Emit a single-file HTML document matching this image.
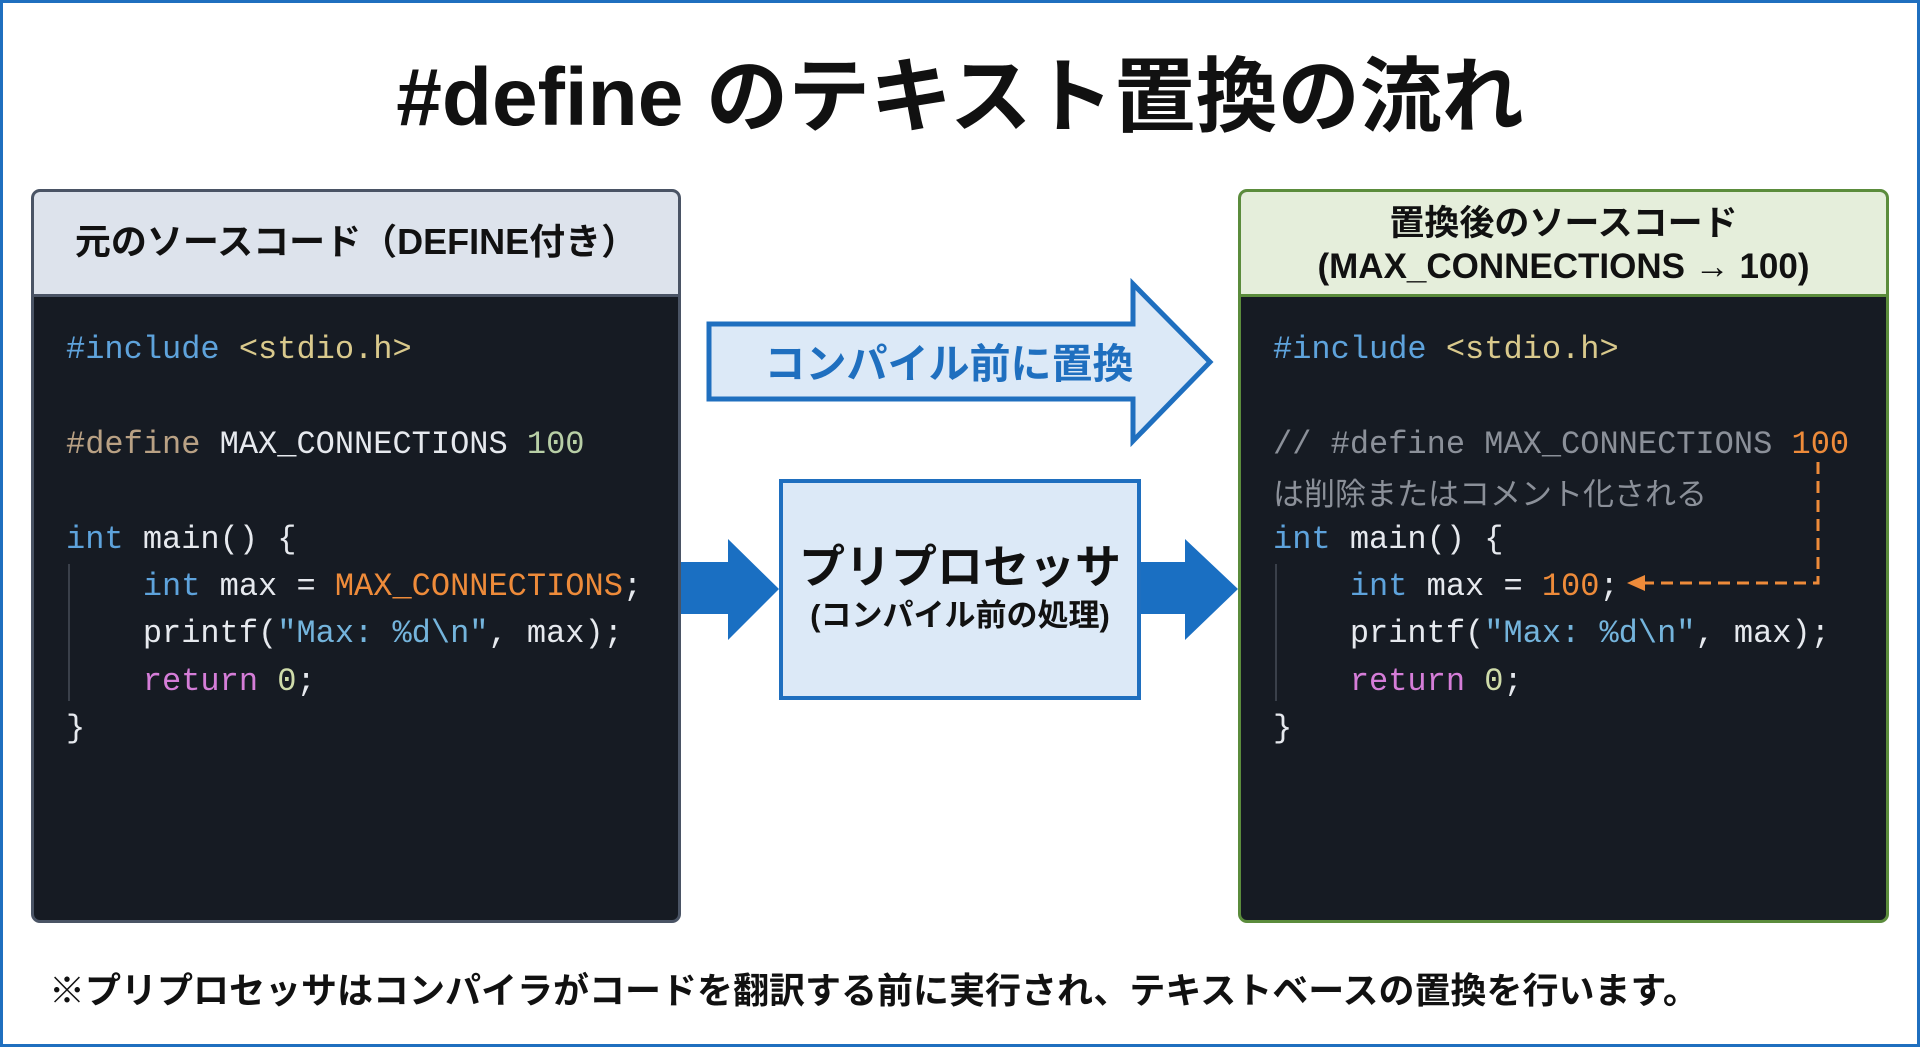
<!DOCTYPE html>
<html><head><meta charset="utf-8">
<style>
*{margin:0;padding:0;box-sizing:border-box}
body{width:1920px;height:1047px;background:#fff;position:relative;overflow:hidden;font-family:"Liberation Sans","Noto Sans CJK JP",sans-serif}
.frame{position:absolute;left:0;top:0;width:1920px;height:1047px;border:3px solid #1f6fbf}
.title{position:absolute;left:0;width:1920px;top:48px;text-align:center;font-size:82px;font-weight:bold;color:#111;line-height:100px}
.panel{position:absolute;top:189px;height:734px;border-radius:9px;overflow:hidden;background:#161b23}
.hdr{position:absolute;left:0;top:0;right:0;height:105px;text-align:center;font-weight:bold;color:#111}
.code{position:absolute;font-family:"Liberation Mono","DejaVu Sans Mono","Noto Sans CJK JP",monospace;font-size:32px;line-height:47.4px;color:#e6e9ee;white-space:pre}
.b{color:#5ea3dc}.y{color:#d9c98c}.d{color:#b9a184}.g{color:#b8cfa6}.o{color:#ee8b3a}.s{color:#74b4dc}.p{color:#d57dd8}.z{color:#cfdcaa}.c{color:#8b9099}
.guide{position:absolute;width:2px;background:#3a404a}
.jp{display:inline-block;height:47.4px;line-height:47.4px;vertical-align:top;font-family:"Noto Sans CJK JP",sans-serif;font-size:31px;overflow:hidden}
</style></head><body>
<div class="frame"></div>
<div class="title">#define のテキスト置換の流れ</div>

<!-- Left panel -->
<div class="panel" style="left:31px;width:650px;border:3px solid #4a5465">
 <div class="hdr" style="background:#dde3ec;border-bottom:3px solid #4a5465;font-size:36px;line-height:100px">元のソースコード（DEFINE付き）</div>
 <div class="guide" style="left:34px;top:372px;height:137px"></div>
 <div class="code" style="left:32px;top:134px"><span class="b">#include</span> <span class="y">&lt;stdio.h&gt;</span>

<span class="d">#define</span> MAX_CONNECTIONS <span class="g">100</span>

<span class="b">int</span> main() {
    <span class="b">int</span> max = <span class="o">MAX_CONNECTIONS</span>;
    printf(<span class="s">"Max: %d\n"</span>, max);
    <span class="p">return</span> <span class="z">0</span>;
}</div>
</div>

<!-- Right panel -->
<div class="panel" style="left:1238px;width:651px;border:3px solid #5b8c3c">
 <div class="hdr" style="background:#e5eedb;border-bottom:3px solid #5b8c3c;font-size:35px;line-height:43px;padding-top:10px">置換後のソースコード<br>(MAX_CONNECTIONS → 100)</div>
 <div class="guide" style="left:34px;top:372px;height:137px"></div>
 <div class="code" style="left:32px;top:134px"><span class="b">#include</span> <span class="y">&lt;stdio.h&gt;</span>

<span class="c">// #define MAX_CONNECTIONS </span><span class="o">100</span>
<span class="c jp">は削除またはコメント化される</span>
<span class="b">int</span> main() {
    <span class="b">int</span> max = <span class="o">100</span>;
    printf(<span class="s">"Max: %d\n"</span>, max);
    <span class="p">return</span> <span class="z">0</span>;
}</div>
</div>

<svg style="position:absolute;left:0;top:0" width="1920" height="1047">
 <path d="M1818 462 L1818 583 L1640 583" fill="none" stroke="#ee8b3a" stroke-width="3" stroke-dasharray="12 7"/>
 <path d="M1627 583 L1645 575 L1645 591 Z" fill="#ee8b3a"/>
 <path d="M709 324 L1133 324 L1133 284 L1210 362 L1133 441 L1133 399 L709 399 Z" fill="#dce9f7" stroke="#1f6fbf" stroke-width="5" stroke-linejoin="miter"/>
 <text x="949" y="378" text-anchor="middle" font-family="Liberation Sans,Noto Sans CJK JP,sans-serif" font-size="41" font-weight="bold" fill="#1f6fbf">コンパイル前に置換</text>
 <path d="M681 562 L728 562 L728 539 L779 589 L728 640 L728 614 L681 614 Z" fill="#1a6fc2"/>
 <path d="M1141 562 L1185 562 L1185 539 L1238 589 L1185 640 L1185 614 L1141 614 Z" fill="#1a6fc2"/>
</svg>

<div style="position:absolute;left:779px;top:479px;width:362px;height:221px;background:#dce9f7;border:4px solid #1f6fbf;text-align:center">
 <div style="margin-top:56px;font-size:46px;font-weight:bold;color:#111;line-height:56px">プリプロセッサ</div>
 <div style="font-size:31px;font-weight:bold;color:#111;line-height:42px">(コンパイル前の処理)</div>
</div>

<div style="position:absolute;left:49px;top:967px;font-size:36px;font-weight:bold;color:#111;line-height:48px;white-space:nowrap">※プリプロセッサはコンパイラがコードを翻訳する前に実行され、テキストベースの置換を行います。</div>
</body></html>
